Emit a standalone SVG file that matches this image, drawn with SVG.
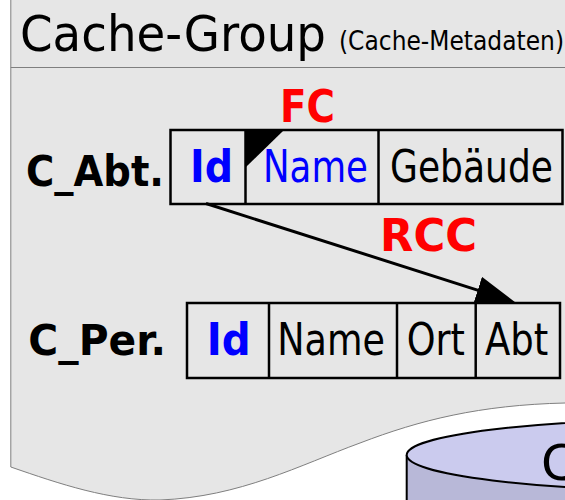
<svg xmlns="http://www.w3.org/2000/svg" width="565" height="500" viewBox="0 0 565 500">
<style>
text{font-family:"DejaVu Sans","Liberation Sans",sans-serif;}
.bold{font-weight:bold;}
.key{fill:#0000FF;font-weight:bold;font-size:44px;}
.blue{fill:#0000FF;font-size:44px;}
.cell{fill:#000;font-size:44px;}
.lbl{fill:#000;font-weight:bold;font-size:43px;}
.red{fill:#FF0000;font-weight:bold;}
.tbl{fill:none;stroke:#000;stroke-width:2.5;}
</style>
<defs>
<marker id="arr" viewBox="0 0 39 28" refX="12.9" refY="14" markerWidth="39" markerHeight="28" markerUnits="userSpaceOnUse" orient="auto">
<path d="M0,0 L39,14 L0,28 Z" fill="#000"/>
</marker>
</defs>
<rect x="0" y="0" width="565" height="500" fill="#FFFFFF"/>
<g id="cache-group">
<path d="M10.8,-5 L10.8,467 C60,484 110,501 160,500 C240,497 300,465 360,443 C420,420 480,405 565,403 L620,402 L620,-5 Z" fill="#E6E6E6" stroke="#7F7F7F" stroke-width="1"/>
<line x1="10.8" y1="67.5" x2="620" y2="67.5" stroke="#7F7F7F" stroke-width="1"/>
<text x="20" y="50.5" font-size="50" textLength="306" lengthAdjust="spacingAndGlyphs">Cache-Group</text>
<text x="339" y="49.5" font-size="26" textLength="225" lengthAdjust="spacingAndGlyphs">(Cache-Metadaten)</text>
</g>
<g id="database">
<path d="M406.7,455 L406.7,540 L993.3,540 L993.3,455" fill="#B8B8D8" stroke="#000" stroke-width="2"/>
<ellipse cx="700" cy="455" rx="293.3" ry="36" fill="#CBCBEE" stroke="#000" stroke-width="2"/>
<text x="541" y="480" font-size="50" fill="#000">C</text>
</g>
<g id="c_abt">
<text x="26" y="186" class="lbl" textLength="138" lengthAdjust="spacingAndGlyphs">C_Abt.</text>
<rect x="170.5" y="130" width="392" height="74" class="tbl"/>
<line x1="245.5" y1="130" x2="245.5" y2="204" class="tbl"/>
<line x1="378.5" y1="130" x2="378.5" y2="204" class="tbl"/>
<polygon points="246,131 283,131 246,167" fill="#000"/>
<text x="190" y="182" class="key" textLength="43" lengthAdjust="spacingAndGlyphs">Id</text>
<text x="263" y="182" class="blue" textLength="105" lengthAdjust="spacingAndGlyphs">Name</text>
<text x="390" y="182" class="cell" textLength="163" lengthAdjust="spacingAndGlyphs">Gebäude</text>
</g>
<g id="c_per">
<text x="28.3" y="355" class="lbl" textLength="137.7" lengthAdjust="spacingAndGlyphs">C_Per.</text>
<rect x="187" y="303" width="373" height="75" class="tbl"/>
<line x1="269" y1="303" x2="269" y2="378" class="tbl"/>
<line x1="397" y1="303" x2="397" y2="378" class="tbl"/>
<line x1="475.7" y1="303" x2="475.7" y2="378" class="tbl"/>
<text x="206.7" y="355" class="key" textLength="44" lengthAdjust="spacingAndGlyphs">Id</text>
<text x="277.3" y="355" class="cell" textLength="107.7" lengthAdjust="spacingAndGlyphs">Name</text>
<text x="406.7" y="355" class="cell" textLength="58.3" lengthAdjust="spacingAndGlyphs">Ort</text>
<text x="485" y="355" class="cell" textLength="63.3" lengthAdjust="spacingAndGlyphs">Abt</text>
</g>
<g id="labels">
<text x="280" y="121.7" font-size="44" class="red" textLength="55" lengthAdjust="spacingAndGlyphs">FC</text>
<text x="380" y="251" font-size="45" class="red" textLength="97" lengthAdjust="spacingAndGlyphs">RCC</text>
</g>
<g id="connectors">
<line x1="206" y1="203.5" x2="490" y2="294.1" stroke="#000" stroke-width="3" marker-end="url(#arr)"/>
</g>
</svg>
